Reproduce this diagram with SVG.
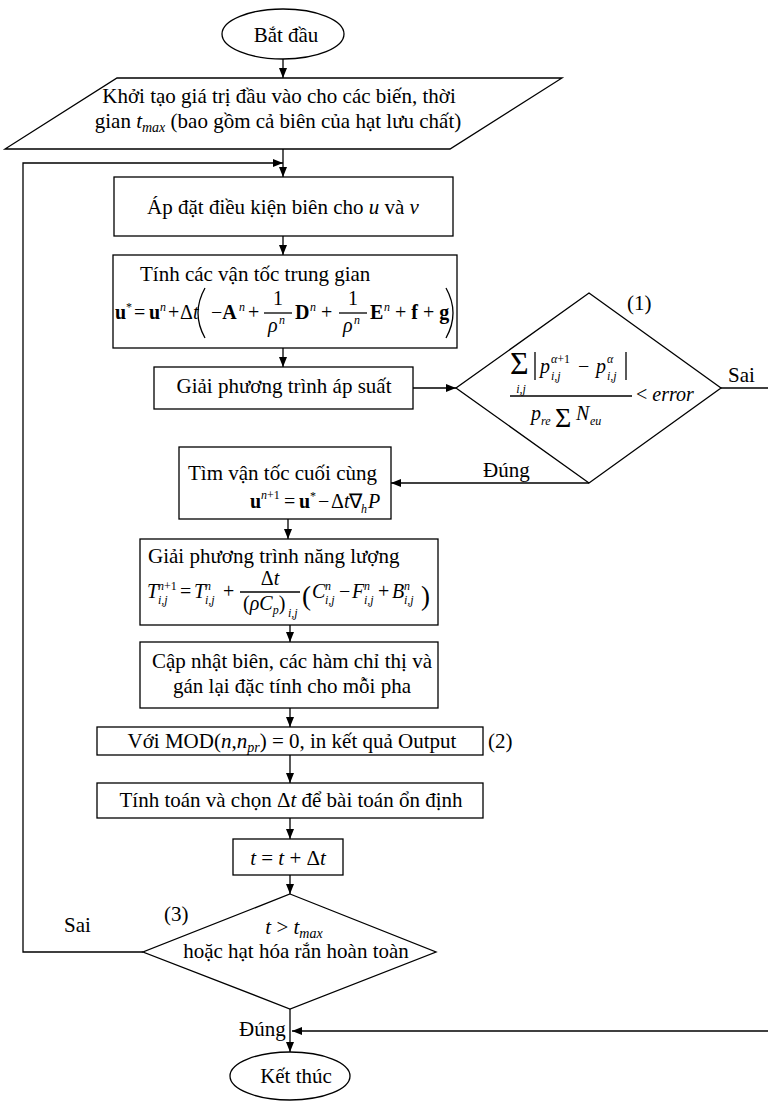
<svg xmlns="http://www.w3.org/2000/svg" width="768" height="1101" viewBox="0 0 768 1101">
<style>
.box{fill:#fff;stroke:#000;stroke-width:1.3}
text{font-family:"Liberation Serif","Times New Roman",serif;font-size:21px;fill:#000}
.m{font-size:20px}
.s{font-size:12px}
.sig{font-size:32px}
.sig2{font-size:28px}
.par{font-size:27px}
.i{font-style:italic}
.b{font-weight:bold}
.c{text-anchor:middle}
.conn path,.ln{fill:none;stroke:#000;stroke-width:1.3}
</style>
<defs>
<marker id="ah" markerUnits="userSpaceOnUse" markerWidth="10" markerHeight="8" refX="10" refY="4" orient="auto">
<path d="M0,0 L10,4 L0,8 z" fill="#000"/>
</marker>
</defs>
<rect width="768" height="1101" fill="#fff"/>

<g class="conn">
<path d="M283 59 V78" marker-end="url(#ah)"/>
<path d="M283 149 V177" marker-end="url(#ah)"/>
<path d="M143 952 H23 V163 H283" marker-end="url(#ah)"/>
<path d="M283 236 V255" marker-end="url(#ah)"/>
<path d="M283 348 V367" marker-end="url(#ah)"/>
<path d="M413 388 H456" marker-end="url(#ah)"/>
<path d="M721 388 H768"/>
<path d="M589 483 H391" marker-end="url(#ah)"/>
<path d="M288 519 V539" marker-end="url(#ah)"/>
<path d="M290 625 V642" marker-end="url(#ah)"/>
<path d="M290 708 V727" marker-end="url(#ah)"/>
<path d="M290 755 V783" marker-end="url(#ah)"/>
<path d="M290 818 V839" marker-end="url(#ah)"/>
<path d="M290 875 V894" marker-end="url(#ah)"/>
<path d="M290 1009 V1052" marker-end="url(#ah)"/>
<path d="M768 1031 H292" marker-end="url(#ah)"/>
</g>

<g id="start">
<ellipse class="box" cx="283" cy="34" rx="61" ry="25"/>
<text class="c" x="286" y="42">Bắt đầu</text>
</g>

<g id="init">
<polygon class="box" points="117,78 562,78 450,149 5,149"/>
<text class="c" x="279" y="103">Khởi tạo giá trị đầu vào cho các biến, thời</text>
<text class="c" x="278" y="128">gian <tspan class="i">t</tspan><tspan class="i" font-size="14" dy="4">max</tspan><tspan dy="-4"> (bao gồm cả biên của hạt lưu chất)</tspan></text>
</g>

<g id="bc">
<rect class="box" x="114" y="177" width="339" height="59"/>
<text class="c" x="283" y="214">Áp đặt điều kiện biên cho <tspan class="i">u</tspan> và <tspan class="i">v</tspan></text>
</g>

<g id="intermediate">
<rect class="box" x="113" y="255" width="344" height="93"/>
<text x="140" y="281">Tính các vận tốc trung gian</text>
<text class="m b" x="115" y="319">u</text><text class="s" x="126" y="311">*</text>
<text class="m" x="134" y="319">=</text>
<text class="m b" x="149" y="319">u</text><text class="s i" x="160" y="311">n</text>
<text class="m" x="168" y="319">+</text>
<text class="m" x="180" y="319">Δ<tspan class="i">t</tspan></text>
<path class="ln" d="M205 288 Q191 313 205 338"/>
<text class="m" x="211" y="319">−<tspan class="b">A</tspan></text><text class="s i" x="239" y="311">n</text>
<text class="m" x="248" y="319">+</text>
<line class="ln" x1="264" y1="313" x2="292" y2="313"/>
<text class="m c" x="278" y="305">1</text>
<text class="m i" x="268" y="332">ρ</text><text class="s i" x="279" y="324">n</text>
<text class="m b" x="295" y="319">D</text><text class="s i" x="310" y="311">n</text>
<text class="m" x="321" y="319">+</text>
<line class="ln" x1="339" y1="313" x2="367" y2="313"/>
<text class="m c" x="353" y="305">1</text>
<text class="m i" x="343" y="332">ρ</text><text class="s i" x="354" y="324">n</text>
<text class="m b" x="370" y="319">E</text><text class="s i" x="384" y="311">n</text>
<text class="m" x="395" y="319">+ <tspan class="b">f</tspan> + <tspan class="b">g</tspan></text>
<path class="ln" d="M446 288 Q460 313 446 338"/>
</g>

<g id="pressure">
<rect class="box" x="154" y="367" width="259" height="42"/>
<text class="c" x="284" y="393">Giải phương trình áp suất</text>
</g>

<g id="check1">
<polygon class="box" points="589,293 721,388 589,483 456,388"/>
<text x="627" y="310">(1)</text>
<text class="sig" x="510" y="374">Σ</text>
<text class="s i c" x="521" y="393">i,j</text>
<line class="ln" x1="535" y1="352" x2="535" y2="380"/>
<text class="m i" x="540" y="373">p</text>
<text class="s" x="551" y="363"><tspan class="i">α</tspan>+1</text>
<text class="s i" x="551" y="380">i,j</text>
<text class="m" x="578" y="373">−</text>
<text class="m i" x="596" y="373">p</text>
<text class="s i" x="607" y="363">α</text>
<text class="s i" x="607" y="380">i,j</text>
<line class="ln" x1="626" y1="352" x2="626" y2="380"/>
<line class="ln" x1="510" y1="396" x2="632" y2="396"/>
<text class="m" x="636" y="401">&lt; <tspan class="i">error</tspan></text>
<text class="m i" x="531" y="420">p</text><text class="s i" x="541" y="425">re</text>
<text class="sig2" x="555" y="427">Σ</text>
<text class="m i" x="576" y="420">N</text><text class="s i" x="590" y="425">eu</text>
</g>
<text x="728" y="382">Sai</text>
<text x="483" y="477">Đúng</text>

<g id="velocity">
<rect class="box" x="179" y="447" width="212" height="72"/>
<text x="188" y="480">Tìm vận tốc cuối cùng</text>
<text class="m b" x="250" y="508">u</text>
<text class="s" x="261" y="499"><tspan class="i">n</tspan>+1</text>
<text class="m" x="284" y="508">=</text>
<text class="m b" x="299" y="508">u</text>
<text class="s" x="310" y="500">*</text>
<text class="m" x="318" y="508">−</text>
<text class="m" x="331" y="508">Δ<tspan class="i">t</tspan>∇</text>
<text class="s i" x="361" y="513">h</text>
<text class="m i" x="368" y="508">P</text>
</g>

<g id="energy">
<rect class="box" x="140" y="539" width="298" height="86"/>
<text x="148" y="563">Giải phương trình năng lượng</text>
<text class="m i" x="147" y="598">T</text><text class="s i" x="158" y="590">n<tspan font-style="normal">+1</tspan></text><text class="s i" x="158" y="604">i,j</text>
<text class="m" x="180" y="598">=</text>
<text class="m i" x="194" y="598">T</text><text class="s i" x="205" y="590">n</text><text class="s i" x="205" y="604">i,j</text>
<text class="m" x="223" y="598">+</text>
<line class="ln" x1="240" y1="592" x2="300" y2="592"/>
<text class="m c" x="270" y="585">Δ<tspan class="i">t</tspan></text>
<text class="m" x="243" y="610">(<tspan class="i">ρC</tspan><tspan class="s i" dy="4">p</tspan><tspan dy="-4">)</tspan></text>
<text class="s i" x="288" y="617">i,j</text>
<text class="par" x="302" y="605">(</text>
<text class="m i" x="312" y="598">C</text><text class="s i" x="325" y="590">n</text><text class="s i" x="325" y="604">i,j</text>
<text class="m" x="339" y="598">−</text>
<text class="m i" x="352" y="598">F</text><text class="s i" x="364" y="590">n</text><text class="s i" x="364" y="604">i,j</text>
<text class="m" x="378" y="598">+</text>
<text class="m i" x="392" y="598">B</text><text class="s i" x="404" y="590">n</text><text class="s i" x="404" y="604">i,j</text>
<text class="par" x="421" y="605">)</text>
</g>

<g id="update">
<rect class="box" x="140" y="642" width="298" height="66"/>
<text class="c" x="292" y="668">Cập nhật biên, các hàm chỉ thị và</text>
<text class="c" x="292" y="693">gán lại đặc tính cho mỗi pha</text>
</g>

<g id="output">
<rect class="box" x="97" y="727" width="386" height="28"/>
<text class="c" x="292" y="748">Với MOD(<tspan class="i">n</tspan>,<tspan class="i">n</tspan><tspan class="i" font-size="14" dy="4">pr</tspan><tspan dy="-4">) = 0, in kết quả Output</tspan></text>
<text x="488" y="748">(2)</text>
</g>

<g id="dt">
<rect class="box" x="97" y="783" width="386" height="35"/>
<text class="c" x="291" y="807">Tính toán và chọn Δ<tspan class="i">t</tspan> để bài toán ổn định</text>
</g>

<g id="step">
<rect class="box" x="233" y="839" width="110" height="36"/>
<text class="c" x="288" y="865"><tspan class="i">t</tspan> = <tspan class="i">t</tspan> + Δ<tspan class="i">t</tspan></text>
</g>

<g id="check2">
<polygon class="box" points="290,894 436,952 290,1009 143,952"/>
<text x="164" y="921">(3)</text>
<text class="c" x="294" y="934"><tspan class="i">t</tspan> &gt; <tspan class="i">t</tspan><tspan class="i" font-size="14" dy="4">max</tspan></text>
<text class="c" x="296" y="958">hoặc hạt hóa rắn hoàn toàn</text>
</g>
<text x="64" y="932">Sai</text>
<text x="239" y="1036">Đúng</text>

<g id="end">
<ellipse class="box" cx="290" cy="1076" rx="60" ry="24"/>
<text class="c" x="296" y="1083">Kết thúc</text>
</g>
</svg>
